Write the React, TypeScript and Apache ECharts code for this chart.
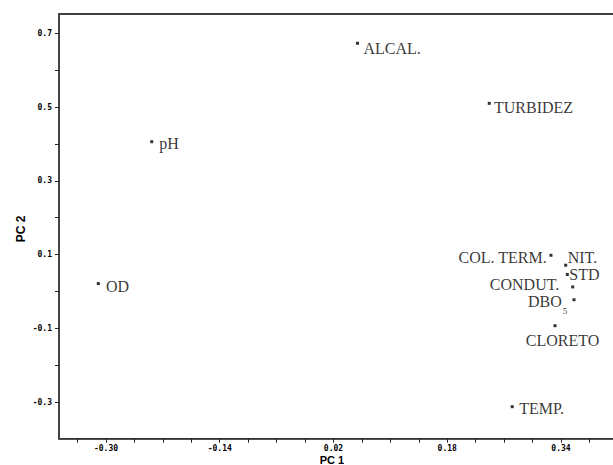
import React, { useEffect, useRef } from "react";
import * as echarts from "echarts";

// Variable loadings on the first two principal components
const variables = ["ALCAL.", "TURBIDEZ", "pH", "OD", "TEMP.", "COL. TERM.", "NIT.", "STD", "CONDUT.", "DBO5", "CLORETO"];
const pc1 = [0.0538, 0.2391, -0.2357, -0.3108, 0.2714, 0.3259, 0.3466, 0.3489, 0.3565, 0.3583, 0.3316];
const pc2 = [0.6729, 0.51, 0.4059, 0.0213, -0.3127, 0.098, 0.071, 0.0458, 0.0121, -0.0226, -0.0931];

// Axis ticks and labelled ticks
const xTickValues = [-0.34, -0.3, -0.26, -0.22, -0.18, -0.14, -0.1, -0.06, -0.02, 0.02, 0.06, 0.1, 0.14, 0.18, 0.22, 0.26, 0.3, 0.34, 0.38, 0.42];
const xTickLabels = [-0.3, -0.14, 0.02, 0.18, 0.34];
const yTickValues = [-0.3, -0.2, -0.1, 0, 0.1, 0.2, 0.3, 0.4, 0.5, 0.6, 0.7];
const yTickLabels = [-0.3, -0.1, 0.1, 0.3, 0.5, 0.7];

const SERIF = "'Liberation Serif', 'Times New Roman', serif";
const MONO = "'DejaVu Sans Mono', monospace";

// Where each variable's name sits relative to its point
const labelPlacement: Record<string, { align: string; offset: [number, number] }> = {
  "ALCAL.": { align: "left", offset: [6, 5.3] },
  TURBIDEZ: { align: "left", offset: [4.7, 3.9] },
  pH: { align: "left", offset: [7.6, 1.3] },
  OD: { align: "left", offset: [7.7, 3.4] },
  "TEMP.": { align: "left", offset: [7, 1.8] },
  "COL. TERM.": { align: "right", offset: [-4.3, 2.7] },
  "NIT.": { align: "left", offset: [2, -7.3] },
  STD: { align: "left", offset: [2, 0] },
  "CONDUT.": { align: "right", offset: [-13.4, -2.4] },
  DBO5: { align: "right", offset: [-6.7, 4.5] },
  CLORETO: { align: "center", offset: [7.5, 14.8] },
};

export default function App() {
  const ref = useRef<HTMLDivElement>(null);

  useEffect(() => {
    if (!ref.current) return;
    const chart = echarts.init(ref.current, null, { renderer: "svg" });

    const data = variables.map((name, i) => {
      const p = labelPlacement[name];
      const isDbo = name === "DBO5";
      return {
        name,
        value: [pc1[i], pc2[i]],
        label: {
          show: true,
          position: "inside",
          align: p.align,
          verticalAlign: "middle",
          offset: p.offset,
          formatter: isDbo ? "{a|DBO}{s|5}" : name,
          rich: isDbo
            ? {
                // subscript: a taller line box with the digit pinned to its bottom
                a: { fontFamily: SERIF, fontSize: 16, lineHeight: 12, color: "#000", verticalAlign: "top" },
                s: { fontFamily: SERIF, fontSize: 9, lineHeight: 22, color: "#000", verticalAlign: "bottom", padding: [0, 0, 0, 1] },
              }
            : undefined,
        },
      };
    });

    chart.setOption({
      animation: false,
      backgroundColor: "#fff",
      grid: {
        left: 59,
        top: 14,
        width: 580.2,
        height: 424.7,
        outerBoundsMode: "none",
        containLabel: false,
        show: true,
        borderColor: "#000",
        borderWidth: 1.5,
        backgroundColor: "transparent",
      },
      xAxis: {
        type: "value",
        min: -0.3661,
        max: 0.45,
        splitLine: { show: false },
        axisLine: { show: true, onZero: false, lineStyle: { color: "#444", width: 1.5 } },
        axisTick: { show: true, inside: false, length: 4, customValues: xTickValues, lineStyle: { color: "#222", width: 1 } },
        axisLabel: {
          customValues: xTickLabels,
          formatter: (v: number) => v.toFixed(2),
          margin: 6,
          fontFamily: MONO,
          fontSize: 8,
          fontWeight: "bold",
          color: "#000",
        },
      },
      yAxis: {
        type: "value",
        min: -0.3995,
        max: 0.7523,
        splitLine: { show: false },
        axisLine: { show: true, onZero: false, lineStyle: { color: "#444", width: 1.5 } },
        axisTick: { show: true, inside: false, length: 4, customValues: yTickValues, lineStyle: { color: "#222", width: 1 } },
        axisLabel: {
          customValues: yTickLabels,
          formatter: (v: number) => v.toFixed(1),
          margin: 7,
          fontFamily: MONO,
          fontSize: 8,
          fontWeight: "bold",
          color: "#000",
        },
      },
      series: [
        {
          type: "scatter",
          symbol: "rect",
          symbolSize: 3,
          itemStyle: { color: "#000" },
          label: { fontFamily: SERIF, fontSize: 16, color: "#000" },
          data,
        },
      ],
      graphic: [
        {
          type: "text",
          x: 332,
          y: 460,
          style: {
            text: "PC 1",
            align: "center",
            verticalAlign: "middle",
            font: "bold 11px 'Liberation Sans', Arial, sans-serif",
            fill: "#000",
          },
        },
        {
          type: "text",
          x: 21,
          y: 229,
          rotation: Math.PI / 2,
          style: {
            text: "PC 2",
            align: "center",
            verticalAlign: "middle",
            font: "bold 12px 'Liberation Sans', Arial, sans-serif",
            fill: "#000",
          },
        },
      ],
    });

    return () => chart.dispose();
  }, []);

  return (
    <div
      ref={ref}
      style={{ position: "absolute", left: 0, top: 0, width: 613, height: 465, overflow: "hidden" }}
    />
  );
}
